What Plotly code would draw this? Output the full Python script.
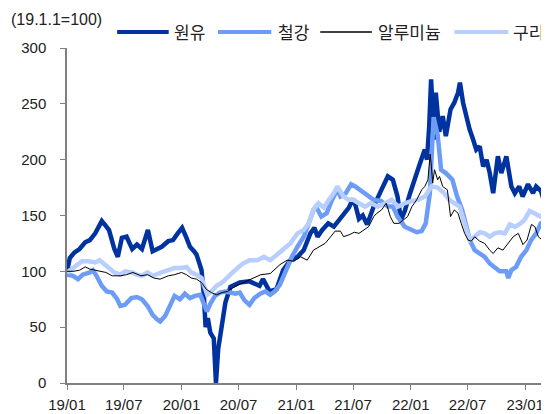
import plotly.graph_objects as go

# ---------------- data ----------------
oil_dates = ["2019-01-01","2019-01-10","2019-01-25","2019-02-10","2019-02-28","2019-03-15","2019-04-01","2019-04-22","2019-05-01","2019-05-15",
             "2019-06-01","2019-06-12","2019-06-25","2019-07-10","2019-07-28","2019-08-12","2019-08-28","2019-09-16","2019-10-01","2019-10-15",
             "2019-10-30","2019-11-20","2019-12-05","2019-12-20","2020-01-03","2020-01-17","2020-01-28","2020-02-10","2020-02-18","2020-02-25",
             "2020-03-05","2020-03-12","2020-03-18","2020-03-25","2020-04-02","2020-04-13","2020-04-20","2020-04-27","2020-05-05","2020-05-20",
             "2020-06-05","2020-07-05","2020-08-05","2020-09-06","2020-09-17","2020-10-08","2020-10-30","2020-11-20","2020-12-13","2021-01-05",
             "2021-01-25","2021-02-15","2021-02-28","2021-03-10","2021-03-25","2021-04-13","2021-05-01","2021-05-15","2021-06-01","2021-06-18",
             "2021-07-01","2021-07-10","2021-07-20","2021-08-01","2021-08-15","2021-08-25","2021-09-05","2021-09-28","2021-10-20","2021-11-05",
             "2021-11-20","2021-12-01","2021-12-13","2021-12-30","2022-01-15","2022-01-31","2022-02-15","2022-02-22","2022-03-01","2022-03-07",
             "2022-03-12","2022-03-16","2022-03-22","2022-04-02","2022-04-13","2022-04-23","2022-05-08","2022-05-20","2022-06-01","2022-06-07",
             "2022-06-17","2022-06-28","2022-07-08","2022-07-19","2022-07-29","2022-08-09","2022-08-20","2022-08-31","2022-09-10","2022-09-21",
             "2022-10-06","2022-10-17","2022-11-02","2022-11-18","2022-11-29","2022-12-13","2022-12-24","2023-01-10","2023-01-26","2023-02-05",
             "2023-02-20","2023-03-08","2023-03-17"]
oil_vals = [100,112,117,120,126,128,134,145,142,137,
            120,113,130,131,120,124,120,137,118,120,
            122,127,128,134,139,130,122,118,115,109,
            101,80,50,58,45,40,0,30,45,72,
            86,90,91,87,93,82,84,101,110,113,
            119,134,139,131,137,143,140,145,151,157,
            165,158,147,150,142,150,158,172,185,182,
            167,146,154,170,185,197,209,200,230,272,
            245,218,260,225,239,221,245,251,260,269,
            251,236,227,218,209,212,194,200,188,170,
            203,188,203,176,170,176,167,178,170,176,
            172,158,161]

steel_dates = ["2019-01-01","2019-01-20","2019-02-05","2019-02-20","2019-03-15","2019-03-25","2019-04-05","2019-04-22","2019-05-08","2019-05-25",
               "2019-06-10","2019-06-20","2019-07-05","2019-07-25","2019-08-12","2019-08-28","2019-09-15","2019-10-01","2019-10-15","2019-10-25",
               "2019-11-10","2019-11-25","2019-12-10","2019-12-27","2020-01-12","2020-01-28","2020-02-13","2020-03-01","2020-03-12","2020-03-22",
               "2020-04-02","2020-04-17","2020-05-03","2020-05-20","2020-06-05","2020-06-20","2020-07-05","2020-07-20","2020-08-05","2020-08-20",
               "2020-09-08","2020-09-25","2020-10-10","2020-10-25","2020-11-10","2020-11-22","2020-12-05","2020-12-18","2021-01-05","2021-01-25",
               "2021-02-10","2021-02-25","2021-03-05","2021-03-22","2021-04-08","2021-04-25","2021-05-12","2021-05-22","2021-06-08","2021-06-25",
               "2021-07-08","2021-07-28","2021-08-20","2021-09-05","2021-09-28","2021-10-20","2021-11-05","2021-11-20","2021-12-13","2022-01-01",
               "2022-01-20","2022-02-05","2022-02-18","2022-03-03","2022-03-15","2022-03-28","2022-04-08","2022-04-23","2022-05-14","2022-05-29",
               "2022-06-14","2022-06-28","2022-07-08","2022-07-24","2022-08-09","2022-08-25","2022-09-10","2022-09-26","2022-10-12","2022-11-02",
               "2022-11-08","2022-11-18","2022-12-03","2022-12-19","2023-01-05","2023-01-20","2023-02-05","2023-02-20","2023-03-08","2023-03-17"]
steel_vals = [97,96,93,97,99,101,96,87,82,81,
              75,69,70,76,77,75,69,61,57,55,
              60,69,78,75,80,76,78,79,72,64,
              71,78,81,82,81,80,81,74,70,76,
              80,82,79,82,88,96,105,113,122,131,
              143,155,158,149,152,164,173,167,170,178,
              176,172,167,164,163,158,158,149,140,138,
              135,136,143,170,238,222,191,188,182,167,
              155,140,128,119,116,113,107,104,100,100,
              94,101,104,113,119,128,134,143,146,149]

alu_dates = ["2019-01-01","2019-01-20","2019-02-10","2019-02-28","2019-03-15","2019-04-01","2019-04-15","2019-05-05","2019-05-25","2019-06-20",
             "2019-07-10","2019-07-30","2019-08-25","2019-09-15","2019-10-05","2019-10-25","2019-11-20","2019-12-10","2020-01-01","2020-01-17",
             "2020-02-01","2020-02-18","2020-03-05","2020-03-20","2020-04-05","2020-04-22","2020-05-10","2020-05-27","2020-06-12","2020-07-01",
             "2020-07-25","2020-08-15","2020-09-10","2020-10-10","2020-11-10","2020-12-03","2020-12-24","2021-01-15","2021-02-05","2021-02-25",
             "2021-03-18","2021-04-03","2021-04-18","2021-05-05","2021-05-22","2021-06-01","2021-06-21","2021-07-05","2021-07-20","2021-08-05",
             "2021-08-20","2021-09-05","2021-09-15","2021-09-30","2021-10-15","2021-10-28","2021-11-08","2021-11-25","2021-12-10","2021-12-22",
             "2022-01-05","2022-01-20","2022-02-05","2022-02-15","2022-02-25","2022-03-04","2022-03-08","2022-03-12","2022-03-18","2022-03-28",
             "2022-04-03","2022-04-13","2022-04-28","2022-05-08","2022-05-20","2022-06-01","2022-06-11","2022-06-22","2022-07-03","2022-07-13",
             "2022-07-24","2022-08-09","2022-08-25","2022-09-10","2022-09-21","2022-10-06","2022-10-22","2022-11-08","2022-11-24","2022-12-10",
             "2022-12-25","2023-01-07","2023-01-21","2023-02-01","2023-02-12","2023-02-28","2023-03-17"]
alu_vals = [100,100,101,104,102,101,100,99,96,96,
            97,99,96,97,94,93,96,97,99,97,
            94,93,90,84,81,79,81,82,85,88,
            91,94,97,98,106,110,109,113,110,119,
            122,125,130,136,136,131,133,135,134,137,
            140,149,152,155,161,149,143,143,146,149,
            158,164,173,176,182,205,194,179,191,182,
            185,176,173,149,155,152,143,134,128,127,
            131,127,125,119,116,121,119,125,131,134,
            124,128,142,140,131,127,124]

cu_dates = ["2019-01-01","2019-01-18","2019-02-01","2019-02-18","2019-03-10","2019-04-01","2019-04-15","2019-05-01","2019-05-15","2019-06-01",
            "2019-06-20","2019-07-05","2019-07-28","2019-08-12","2019-08-28","2019-09-15","2019-10-01","2019-10-15","2019-10-30","2019-11-20",
            "2019-12-10","2020-01-01","2020-01-17","2020-02-01","2020-02-18","2020-03-05","2020-03-15","2020-03-23","2020-04-05","2020-04-22",
            "2020-05-10","2020-05-27","2020-06-12","2020-06-28","2020-07-15","2020-08-05","2020-08-30","2020-09-20","2020-10-10","2020-11-01",
            "2020-11-20","2020-12-13","2021-01-05","2021-01-25","2021-02-10","2021-02-25","2021-03-13","2021-03-30","2021-04-15","2021-05-01",
            "2021-05-12","2021-06-01","2021-06-18","2021-07-01","2021-07-20","2021-08-08","2021-08-28","2021-09-18","2021-10-12","2021-11-01",
            "2021-11-22","2021-12-13","2022-01-05","2022-01-25","2022-02-15","2022-03-08","2022-03-28","2022-04-18","2022-05-04","2022-05-20",
            "2022-06-06","2022-06-22","2022-07-08","2022-07-24","2022-08-09","2022-08-25","2022-09-10","2022-09-26","2022-10-12","2022-10-28",
            "2022-11-13","2022-11-29","2022-12-13","2022-12-30","2023-01-15","2023-01-30","2023-02-18","2023-03-05","2023-03-17"]
cu_vals = [99,103,106,109,109,108,110,106,103,99,
           97,100,99,97,96,99,96,97,99,101,
           103,103,104,99,97,94,87,79,82,87,
           90,94,99,103,107,110,110,113,110,115,
           119,125,134,137,143,155,161,157,164,170,
           176,167,164,164,161,158,161,158,161,164,
           158,161,163,164,167,176,175,170,164,161,
           158,143,128,131,135,134,131,134,135,134,
           142,140,142,146,154,152,149,152,150]

series_names = ["원유", "철강", "알루미늄", "구리"]
series_colors = ["#0033A0", "#6D9CF7", "#000000", "#B7CEFF"]
series_widths = [4.5, 4.5, 1, 4.5]
tick_vals = ["2019-01-01","2019-07-01","2020-01-01","2020-07-01","2021-01-01","2021-07-01","2022-01-01","2022-07-01","2023-01-01"]
tick_text = ["19/01","19/07","20/01","20/07","21/01","21/07","22/01","22/07","23/01"]
y_ticks = [0, 50, 100, 150, 200, 250, 300]
base_note = "(19.1.1=100)"

# ---------------- layout helpers ----------------
# The page body adds an 8px offset, so the figure is sized to fill the
# 549x414 window exactly from that offset.
OFF = 8
W, H = 549 - OFF, 414 - OFF
ML, MR, MT, MB = 66.5 - OFF, 0, 48.3 - OFF, 30.5
PW, PH = W - ML - MR, H - MT - MB
def px(x):   # window pixel -> paper x
    return (x - OFF - ML) / PW
def py(y):   # window pixel -> paper y
    return (H - MB - (y - OFF)) / PH

NUM_FONT = "Liberation Sans, Arial, sans-serif"
KR_FONT = "Noto Sans CJK KR, sans-serif"
TXT = "#222222"
AX = "#808080"

fig = go.Figure()
datasets = {"원유": (oil_dates, oil_vals), "철강": (steel_dates, steel_vals),
            "알루미늄": (alu_dates, alu_vals), "구리": (cu_dates, cu_vals)}
draw_order = [0, 1, 3, 2]  # aluminium thin black line on top
for i in draw_order:
    nm = series_names[i]
    xs, ys = datasets[nm]
    fig.add_trace(go.Scatter(x=xs, y=ys, name=nm, mode="lines",
                             line=dict(color=series_colors[i], width=series_widths[i]),
                             showlegend=False))

# custom legend (sample line + text) across the top
legend_line_x = [(116.7, 168.3), (217.7, 271), (320, 371.7), (454.3, 508.3)]
legend_text_x = [171.5, 275.5, 375.5, 511.0]
legend_y = 32.3
shapes = []
annotations = []
for i, nm in enumerate(series_names):
    x0, x1 = legend_line_x[i]
    shapes.append(dict(type="line", xref="paper", yref="paper",
                       x0=px(x0), x1=px(x1), y0=py(legend_y), y1=py(legend_y),
                       line=dict(color=series_colors[i], width=4 if series_widths[i] > 1 else 1.3)))
    annotations.append(dict(text=nm, xref="paper", yref="paper", x=px(legend_text_x[i]), y=py(legend_y - 0.5),
                            xanchor="left", yanchor="middle", showarrow=False,
                            font=dict(family=KR_FONT, size=17, color=TXT)))
annotations.append(dict(text=base_note, xref="paper", yref="paper", x=px(8.5), y=py(20),
                        xanchor="left", yanchor="middle", showarrow=False,
                        font=dict(family=NUM_FONT, size=16, color=TXT)))

fig.update_layout(
    template="none",
    width=W, height=H,
    margin=dict(l=ML, r=MR, t=MT, b=MB, pad=0),
    paper_bgcolor="white", plot_bgcolor="white",
    font=dict(family=NUM_FONT, size=15, color=TXT),
    showlegend=False,
    xaxis=dict(range=["2019-01-01", "2023-03-18"], tickvals=tick_vals, ticktext=tick_text,
               automargin=False, showgrid=False, zeroline=False, showline=True,
               linecolor=AX, linewidth=1.5, mirror=False,
               ticks="outside", ticklen=5, tickcolor=AX, tickwidth=1, ticklabelstandoff=2,
               tickfont=dict(family=NUM_FONT, size=15, color=TXT)),
    yaxis=dict(range=[0, 300], tickvals=y_ticks, automargin=False, showgrid=False, zeroline=False,
               showline=True, linecolor=AX, linewidth=1.5, mirror=False,
               ticks="outside", ticklen=5, tickcolor=AX, tickwidth=1, ticklabelstandoff=11,
               tickfont=dict(family=NUM_FONT, size=15, color=TXT)),
    shapes=shapes,
    annotations=annotations,
)

fig.write_html("out.html")
